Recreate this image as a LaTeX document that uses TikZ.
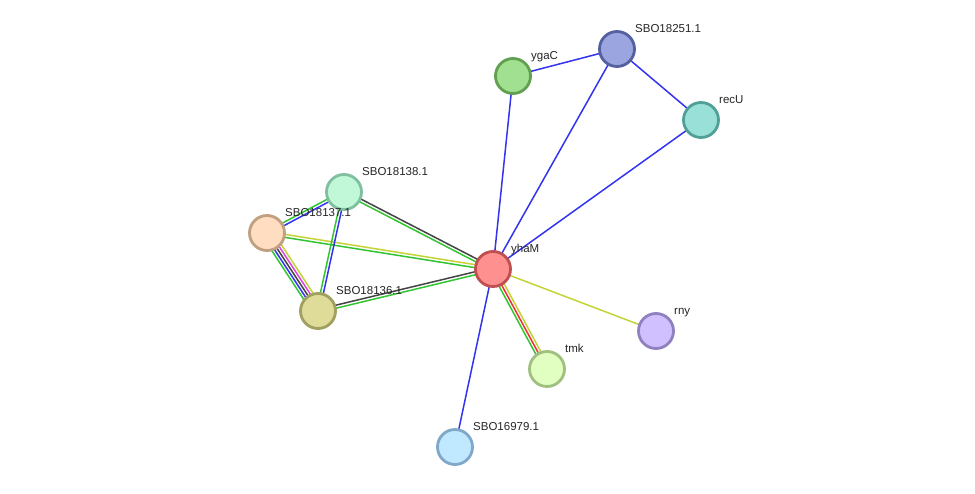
\documentclass[tikz,border=0pt]{standalone}
\usepackage{fontspec}
\setmainfont{Liberation Sans}
\usetikzlibrary{calc,backgrounds}
\definecolor{eblue}{HTML}{3333F0}
\definecolor{egreen}{HTML}{33C433}
\definecolor{egray}{HTML}{444444}
\definecolor{eyellow}{HTML}{C4D436}
\definecolor{ered}{HTML}{F03030}
\definecolor{emag}{HTML}{DD44DD}
\tikzset{
  prot/.style={circle, minimum size=35pt, inner sep=0pt, line width=2.8pt},
  plabel/.style={anchor=base west, inner sep=0pt, font=\fontsize{11.5}{13}\selectfont, text=black!85},
  eline/.style={line width=1.5pt}
}
\newcommand\edgeln[4]{%
  \draw[eline,#4] ($(#1)!#3!90:(#2)$) -- ($(#2)!#3!-90:(#1)$);}
\begin{document}
\begin{tikzpicture}[x=1pt,y=-1pt]
\useasboundingbox (0,0) rectangle (975,493);
% nodes
\node[prot, fill={rgb,255:red,255;green,144;blue,144}, draw={rgb,255:red,192;green,80;blue,80}] (yhaM) at (493,269) {};
\node[prot, fill={rgb,255:red,160;green,224;blue,144}, draw={rgb,255:red,96;green,160;blue,80}] (ygaC) at (513,76) {};
\node[prot, fill={rgb,255:red,155;green,165;blue,224}, draw={rgb,255:red,85;green,96;blue,160}] (S251) at (617,49) {};
\node[prot, fill={rgb,255:red,153;green,224;blue,216}, draw={rgb,255:red,80;green,160;blue,152}] (recU) at (701,120) {};
\node[prot, fill={rgb,255:red,192;green,248;blue,216}, draw={rgb,255:red,128;green,192;blue,160}] (S138) at (344,192) {};
\node[prot, fill={rgb,255:red,255;green,221;blue,192}, draw={rgb,255:red,192;green,160;blue,128}] (S137) at (267,233) {};
\node[prot, fill={rgb,255:red,222;green,220;blue,152}, draw={rgb,255:red,160;green,160;blue,96}] (S136) at (318,311) {};
\node[prot, fill={rgb,255:red,208;green,192;blue,255}, draw={rgb,255:red,144;green,128;blue,192}] (rny) at (656,331) {};
\node[prot, fill={rgb,255:red,224;green,255;blue,192}, draw={rgb,255:red,160;green,192;blue,128}] (tmk) at (547,369) {};
\node[prot, fill={rgb,255:red,192;green,232;blue,255}, draw={rgb,255:red,128;green,168;blue,200}] (S979) at (455,447) {};
% labels
\node[plabel] (lyhaM) at ($(yhaM)+(18,-17)$) {yhaM};
\node[plabel] (lygaC) at ($(ygaC)+(18,-17)$) {ygaC};
\node[plabel] (lS251) at ($(S251)+(18,-17)$) {SBO18251.1};
\node[plabel] (lrecU) at ($(recU)+(18,-17)$) {recU};
\node[plabel] (lS138) at ($(S138)+(18,-17)$) {SBO18138.1};
\node[plabel] (lS137) at ($(S137)+(18,-17)$) {SBO18137.1};
\node[plabel] (lS136) at ($(S136)+(18,-17)$) {SBO18136.1};
\node[plabel] (lrny) at ($(rny)+(18,-17)$) {rny};
\node[plabel] (ltmk) at ($(tmk)+(18,-17)$) {tmk};
\node[plabel] (lS979) at ($(S979)+(18,-17)$) {SBO16979.1};
% edges
\begin{scope}[on background layer]
\fill[white] (0,0) rectangle (975,493);
\edgeln{yhaM}{ygaC}{0pt}{eblue}
\edgeln{yhaM}{S251}{0pt}{eblue}
\edgeln{yhaM}{recU}{0pt}{eblue}
\edgeln{ygaC}{S251}{0pt}{eblue}
\edgeln{S251}{recU}{0pt}{eblue}
\edgeln{yhaM}{S979}{0pt}{eblue}
\edgeln{yhaM}{rny}{0pt}{eyellow}
\edgeln{yhaM}{tmk}{-2.8pt}{egreen}
\edgeln{yhaM}{tmk}{0pt}{ered}
\edgeln{yhaM}{tmk}{2.8pt}{eyellow}
\edgeln{S138}{yhaM}{1.5pt}{egray}
\edgeln{S138}{yhaM}{-1.5pt}{egreen}
\edgeln{S137}{yhaM}{1.5pt}{eyellow}
\edgeln{S137}{yhaM}{-1.5pt}{egreen}
\edgeln{S136}{yhaM}{1.5pt}{egray}
\edgeln{S136}{yhaM}{-1.5pt}{egreen}
\edgeln{S137}{S138}{1.5pt}{egreen}
\edgeln{S137}{S138}{-1.5pt}{eblue}
\edgeln{S136}{S138}{1.5pt}{egreen}
\edgeln{S136}{S138}{-1.5pt}{eblue}
\edgeln{S137}{S136}{-5.6pt}{egreen}
\edgeln{S137}{S136}{-2.8pt}{eblue}
\edgeln{S137}{S136}{0pt}{egray}
\edgeln{S137}{S136}{2.8pt}{emag}
\edgeln{S137}{S136}{5.6pt}{eyellow}
\end{scope}
\end{tikzpicture}
\end{document}
